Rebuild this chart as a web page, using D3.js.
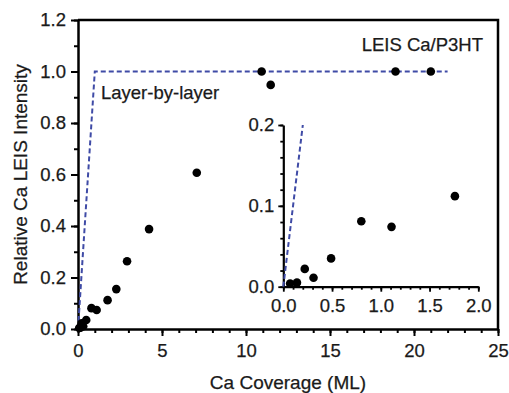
<!DOCTYPE html>
<html>
<head>
<meta charset="utf-8">
<script src="https://cdn.jsdelivr.net/npm/d3@7"></script>
<style>
  body { margin: 0; background: #fff; }
  svg { display: block; font-family: "Liberation Sans", Arial, sans-serif; }
  .axis path, .axis line { stroke: #000; }
  .axis text { fill: #1a1a1a; font-size: 18.5px; font-family: "Liberation Sans", Arial, sans-serif; stroke: #1a1a1a; stroke-width: 0.25; }
  .label { fill: #1a1a1a; stroke: #1a1a1a; stroke-width: 0.25; }
</style>
</head>
<body>
<svg id="chart" width="509" height="393"></svg>
<script>
const coverage = [0.07, 0.14, 0.22, 0.31, 0.49, 0.80, 1.11, 1.76, 2.28, 2.92, 4.23, 7.07, 10.93, 11.47, 18.9, 21.0];
const intensity = [0.004, 0.005, 0.022, 0.011, 0.035, 0.081, 0.074, 0.112, 0.155, 0.263, 0.388, 0.607, 1.0, 0.948, 1.0, 1.0];

// layer-by-layer growth model
const modelX = [0, 1, 22];
const modelY = [0, 1, 1];

const xTicks = [0, 5, 10, 15, 20, 25];
const yTicks = [0, 0.2, 0.4, 0.6, 0.8, 1.0, 1.2];
const insetXTicks = [0, 0.5, 1.0, 1.5, 2.0];
const insetYTicks = [0, 0.1, 0.2];

let svg = d3.select("#chart");
let points = coverage.map((c, i) => ({x: c, y: intensity[i]}));
let model = modelX.map((m, i) => ({x: m, y: modelY[i]}));

// main plot
let x = d3.scaleLinear().domain([0, 25]).range([78, 498]);
let y = d3.scaleLinear().domain([0, 1.2]).range([329, 20]);

svg.append("g").attr("class", "axis").attr("transform", "translate(0,329)")
  .call(d3.axisBottom(x).tickValues(d3.range(0, 26, 1)).tickSize(4).tickFormat(""))
  .call(g => g.select(".domain").remove())
  .selectAll("line").attr("stroke-width", 2);
svg.append("g").attr("class", "axis").attr("transform", "translate(0,329)")
  .call(d3.axisBottom(x).tickValues(xTicks).tickSize(7).tickPadding(8).tickSizeOuter(0).tickFormat(d3.format("d")))
  .call(g => g.selectAll("line").attr("stroke-width", 2))
  .call(g => g.select(".domain").attr("stroke-width", 2.5));

svg.append("g").attr("class", "axis").attr("transform", "translate(78,0)")
  .call(d3.axisLeft(y).tickValues(d3.range(0, 13).map(i => i / 10)).tickSize(4).tickFormat(""))
  .call(g => g.select(".domain").remove())
  .selectAll("line").attr("stroke-width", 2);
svg.append("g").attr("class", "axis").attr("transform", "translate(78,0)")
  .call(d3.axisLeft(y).tickValues(yTicks).tickSize(7).tickPadding(5).tickSizeOuter(0).tickFormat(d3.format(".1f")))
  .call(g => g.selectAll("line").attr("stroke-width", 2))
  .call(g => g.select(".domain").attr("stroke-width", 2.5));

// top and right frame
svg.append("path")
  .attr("d", `M${x(0)},${y(1.2)}H${x(25)}V${y(0)}`)
  .attr("fill", "none").attr("stroke", "#000").attr("stroke-width", 2.5);

let line = d3.line().x(d => x(d.x)).y(d => y(d.y));
svg.append("path").datum(model)
  .attr("d", line)
  .attr("fill", "none").attr("stroke", "#3f4ba6").attr("stroke-width", 2)
  .attr("stroke-dasharray", "5,3");

svg.selectAll(".dot").data(points).enter().append("circle")
  .attr("class", "dot")
  .attr("cx", d => x(d.x)).attr("cy", d => y(d.y)).attr("r", 4.3)
  .attr("fill", "#000");

svg.append("text").attr("class", "label").attr("x", 483).attr("y", 51).attr("text-anchor", "end")
  .attr("font-size", 18.5).text("LEIS Ca/P3HT");
svg.append("text").attr("class", "label").attr("x", 101).attr("y", 99).attr("font-size", 18.5)
  .text("Layer-by-layer");

svg.append("text").attr("class", "label").attr("transform", "translate(27,174.5) rotate(-90)")
  .attr("text-anchor", "middle").attr("font-size", 19)
  .text("Relative Ca LEIS Intensity");
svg.append("text").attr("class", "label").attr("x", 288).attr("y", 389)
  .attr("text-anchor", "middle").attr("font-size", 19)
  .text("Ca Coverage (ML)");

// inset
let ix = d3.scaleLinear().domain([0, 2]).range([283.3, 478.3]);
let iy = d3.scaleLinear().domain([0, 0.2]).range([286.7, 125]);

svg.append("g").attr("class", "axis").attr("transform", "translate(0,286.7)")
  .call(d3.axisBottom(ix).tickValues(d3.range(0, 21).map(i => i / 10)).tickSize(3).tickFormat(""))
  .call(g => g.select(".domain").remove())
  .selectAll("line").attr("stroke-width", 1.8);
svg.append("g").attr("class", "axis").attr("transform", "translate(0,286.7)")
  .call(d3.axisBottom(ix).tickValues(insetXTicks).tickSize(5).tickPadding(7).tickSizeOuter(0).tickFormat(d3.format(".1f")))
  .call(g => g.selectAll("line").attr("stroke-width", 1.8))
  .call(g => g.select(".domain").attr("stroke-width", 2.2));

svg.append("g").attr("class", "axis").attr("transform", "translate(283.3,0)")
  .call(d3.axisLeft(iy).tickValues(d3.range(0, 11).map(i => i / 50)).tickSize(3).tickFormat(""))
  .call(g => g.select(".domain").remove())
  .selectAll("line").attr("stroke-width", 1.8);
svg.append("g").attr("class", "axis").attr("transform", "translate(283.3,0)")
  .call(d3.axisLeft(iy).tickValues(insetYTicks).tickSize(5).tickPadding(4).tickSizeOuter(0).tickFormat(d3.format(".1f")))
  .call(g => g.selectAll("line").attr("stroke-width", 1.8))
  .call(g => g.select(".domain").attr("stroke-width", 2.2));

let iline = d3.line().x(d => ix(d.x)).y(d => iy(d.y));
svg.append("path").datum([{x: 0, y: 0}, {x: 0.2, y: 0.2}])
  .attr("d", iline)
  .attr("fill", "none").attr("stroke", "#3f4ba6").attr("stroke-width", 2)
  .attr("stroke-dasharray", "5,3");

svg.selectAll(".idot").data(points.filter(d => d.x <= 2)).enter().append("circle")
  .attr("class", "idot")
  .attr("cx", d => ix(d.x)).attr("cy", d => iy(d.y)).attr("r", 4.3)
  .attr("fill", "#000");
</script>
</body>
</html>
